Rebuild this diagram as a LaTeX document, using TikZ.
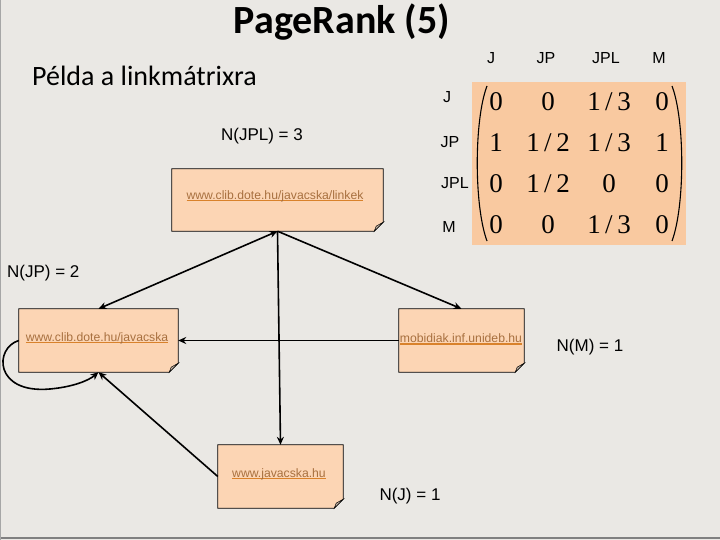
\documentclass[tikz,border=0pt]{standalone}
\usepackage{fontspec}
\setmainfont{Liberation Sans}
\newfontfamily\titlefont{Carlito}
\newfontfamily\numfont{Liberation Serif}
\usetikzlibrary{arrows.meta,calc}
\definecolor{bgc}{HTML}{EAE8E4}
\definecolor{boxc}{HTML}{FCD5B4}
\definecolor{matc}{HTML}{F9C9A0}
\definecolor{linkc}{HTML}{A8703F}
\definecolor{ulc}{HTML}{D9822B}
\definecolor{flapc}{HTML}{C9B9AA}
\newcommand{\ulink}[1]{\setbox0\hbox{#1}\rlap{\color{ulc}\rule[-2.2pt]{\wd0}{1.4pt}}{\color{linkc}\box0}}
\newcommand{\fr}[2]{#1\,/\,#2}
\newcommand{\notepath}[1]{%
  \filldraw[fill=boxc,draw=black,line width=0.8pt] (#1.north west) -- (#1.north east) -- ($(#1.south east)+(0,-9)$) -- ($(#1.south east)+(-9,0)$) -- (#1.south west) -- cycle;
  \filldraw[fill=flapc,draw=black,line width=0.5pt] ($(#1.south east)+(0,-9)$) -- ($(#1.south east)+(-9,0)$) -- ($(#1.south east)+(-7,-5)$) -- cycle;}
\begin{document}
\begin{tikzpicture}[x=1pt,y=-1pt,
  notebox/.style={draw=none,fill=none,inner sep=0pt,font=\fontsize{12.2}{14}\selectfont},
  lbl/.style={inner sep=0pt,font=\fontsize{17}{20}\selectfont},
  hdr/.style={inner sep=0pt,font=\fontsize{16}{19}\selectfont},
  ent/.style={inner sep=0pt,font=\numfont\fontsize{27}{30}\selectfont},
  arr/.style={line width=1.6pt,-{Stealth[length=8pt,width=7pt]}},
  darr/.style={line width=1.6pt,{Stealth[length=8pt,width=7pt]}-{Stealth[length=8pt,width=7pt]}}]
\useasboundingbox (0,0) rectangle (720,540);
\fill[bgc] (0,0) rectangle (720,540);
\draw[gray,line width=1.5pt] (0,538) -- (720,538);
\draw[gray!70,line width=1pt] (0.5,0) -- (0.5,540);

% title
\node[inner sep=0pt,font=\titlefont\bfseries\fontsize{40}{44}\selectfont] (title) at (342,22) {PageRank (5)};
\node[inner sep=0pt,anchor=west,font=\titlefont\fontsize{28}{32}\selectfont] (sub) at (32,76) {Példa a linkmátrixra};

% boxes
\node[notebox,minimum width=211pt,minimum height=62pt] (jpl) at (277.5,200) {};
\node[notebox,minimum width=159pt,minimum height=63pt] (jp) at (98.5,340.5) {};
\node[notebox,minimum width=125pt,minimum height=63pt] (m) at (461.5,340.5) {};
\node[notebox,minimum width=125pt,minimum height=63pt] (j) at (280.5,476.5) {};
\notepath{jpl}\notepath{jp}\notepath{m}\notepath{j}
\node[notebox] (tjpl) at (275,196) {\ulink{www.clib.dote.hu/javacska/linkek}};
\node[notebox] (tjp) at (97,338) {\ulink{www.clib.dote.hu/javacska}};
\node[notebox] (tm) at (461,339) {\ulink{mobidiak.inf.unideb.hu}};
\node[notebox] (tj) at (279,474) {\ulink{www.javacska.hu}};

% edges
\draw[darr] (jpl.south) -- (jp.north);
\draw[arr] (jpl.south) -- (m.north);
\draw[arr] (jpl.south) -- (j.north);
\draw[arr] (m.west) -- (jp.east);
\draw[arr] (j.west) -- (jp.south);
\draw[arr] (jp.west) .. controls (-6,348) and (-6,394) .. (50,389) .. controls (72,387) and (88,381) .. (jp.south);

% N labels
\node[lbl] (njpl) at (262,136) {N(JPL) = 3};
\node[lbl,anchor=west] (njp) at (7,273) {N(JP) = 2};
\node[lbl] (nm) at (590,347) {N(M) = 1};
\node[lbl] (nj) at (410,496) {N(J) = 1};

% matrix
\fill[matc] (472,82) rectangle (686,245);
\node[hdr] (cJ) at (491,58) {J};
\node[hdr] (cJP) at (546,58) {JP};
\node[hdr] (cJPL) at (606,58) {JPL};
\node[hdr] (cM) at (659,58) {M};
\node[hdr] (rJ) at (447,97) {J};
\node[hdr] (rJP) at (450,142) {JP};
\node[hdr] (rJPL) at (455,183) {JPL};
\node[hdr] (rM) at (449,227) {M};
\foreach \r/\ry/\a/\b/\c/\d in {1/102/0/0/\fr13/0, 2/143/1/\fr12/\fr13/1, 3/184/0/\fr12/0/0, 4/225/0/0/\fr13/0}{
  \node[ent] (e\r a) at (496,\ry) {\a};
  \node[ent] (e\r b) at (548,\ry) {\b};
  \node[ent] (e\r c) at (609,\ry) {\c};
  \node[ent] (e\r d) at (662,\ry) {\d};
}
\draw[line width=1.1pt] (487,86) .. controls (474,120) and (474,206) .. (487,241);
\draw[line width=1.1pt] (672,86) .. controls (685,120) and (685,206) .. (672,241);
\end{tikzpicture}
\end{document}
